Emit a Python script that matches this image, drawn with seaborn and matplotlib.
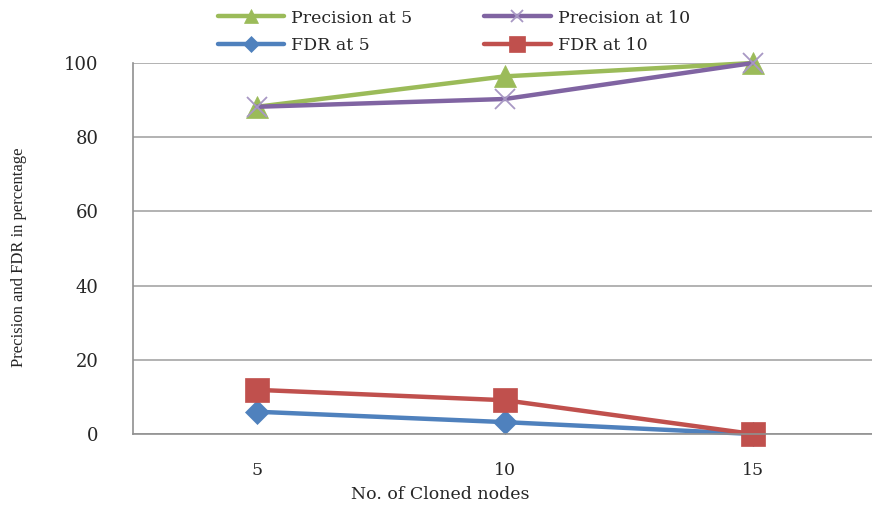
import matplotlib
matplotlib.use("Agg")
import matplotlib.pyplot as plt
import seaborn as sns
import pandas as pd
from matplotlib.ticker import FixedLocator

nodes = [5, 10, 15]
precision_at_5 = [88.2, 96.4, 100.0]
precision_at_10 = [88.2, 90.3, 100.0]
fdr_at_5 = [6.0, 3.2, 0.0]
fdr_at_10 = [11.9, 9.1, 0.0]
y_ticks = [0, 20, 40, 60, 80, 100]

series = [
    ("Precision at 5", precision_at_5, "#9BBB59", "^", 16),
    ("Precision at 10", precision_at_10, "#8064A2", "x", 15),
    ("FDR at 5", fdr_at_5, "#4F81BD", "D", 12),
    ("FDR at 10", fdr_at_10, "#C0504D", "s", 17),
]

sns.set_style("white")
plt.rcParams['font.family'] = ['DejaVu Serif', 'Liberation Serif']

fig = plt.figure(figsize=(8.72, 5.08), dpi=100)
ax = fig.add_axes([133/872, (508-434)/508, (872-133)/872, (434-63)/508])

for name, vals, color, marker, ms in series:
    df = pd.DataFrame({"x": nodes, "y": vals})
    sns.lineplot(data=df, x="x", y="y", ax=ax, color=color, linewidth=3.2,
                 marker=marker, markersize=ms, markeredgecolor=color,
                 markeredgewidth=1.3 if marker == "x" else 0.5,
                 clip_on=False, label=name, legend=False)

lines = ax.get_lines()
for ln in lines:
    ln.set_clip_on(False)
    if ln.get_marker() == "x":
        ln.set_markeredgecolor("#A898C4")

ax.set_xlim(2.5, 17.4)
ax.set_ylim(0, 100)
ax.set_yticks(y_ticks)
ax.set_xticks(nodes)
ax.xaxis.set_minor_locator(FixedLocator([7.03, 11.42]))
ax.tick_params(axis="x", which="major", length=0, pad=20, labelsize=12.5)
ax.tick_params(axis="x", which="minor", length=5, color="#808080", direction="out")
ax.tick_params(axis="y", which="major", length=5, color="#808080", direction="out",
               pad=20, labelsize=13)
ax.grid(axis="y", color="#A6A6A6", linewidth=1.2)
ax.set_axisbelow(True)
for s in ["top", "right"]:
    ax.spines[s].set_visible(False)
for s in ["left", "bottom"]:
    ax.spines[s].set_color("#909090")
    ax.spines[s].set_linewidth(1.2)

ax.set_xlabel("No. of Cloned nodes", fontsize=12.5)
ax.xaxis.set_label_coords((440-133)/739, -0.14)
ax.set_ylabel("Precision and FDR in percentage", fontsize=12,
              family=['Liberation Serif', 'DejaVu Serif'])
ax.yaxis.set_label_coords(-0.143, 0.477)

order = [0, 2, 1, 3]
h = [lines[i] for i in order]
lab = [series[i][0] for i in order]
leg = fig.legend(h, lab, ncol=2, loc="upper left", bbox_to_anchor=(202/872, 1.012),
                 frameon=False, fontsize=12.5, handlelength=3.85, columnspacing=4.1,
                 labelspacing=0.6, handletextpad=0.4)
for lh, (_, _, _, marker, ms) in zip(leg.legend_handles, [series[i] for i in order]):
    lh.set_markersize(ms * (0.55 if marker == "x" else 0.65))

fig.savefig("out.png", dpi=100)
